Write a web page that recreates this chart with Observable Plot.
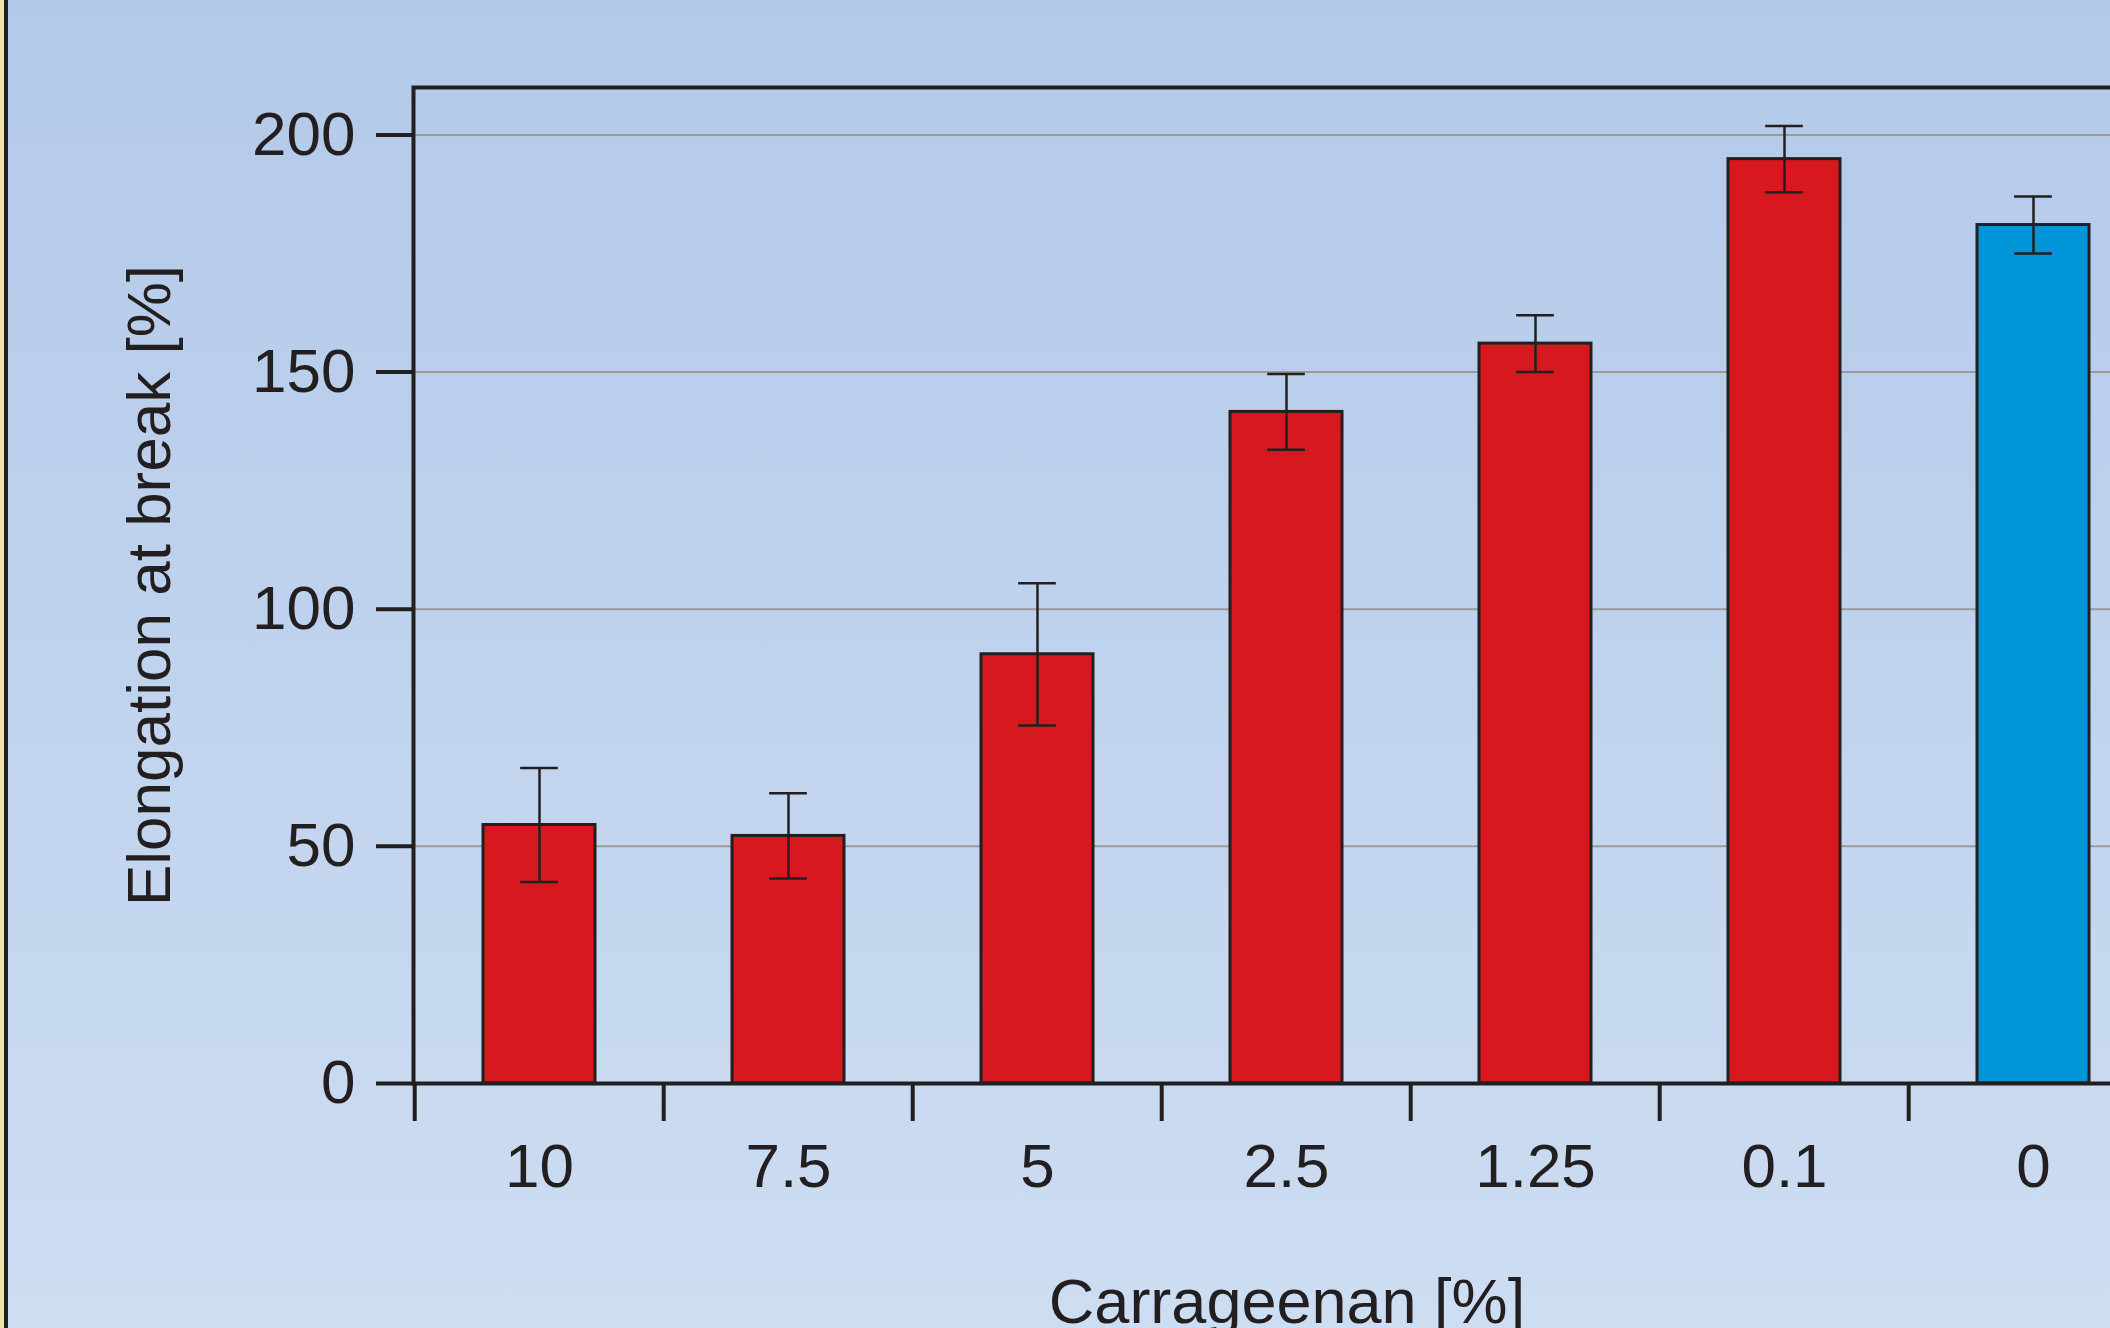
<!DOCTYPE html>
<html><head><meta charset="utf-8">
<script src="https://cdn.jsdelivr.net/npm/d3@7"></script>
<script src="https://cdn.jsdelivr.net/npm/@observablehq/plot@0.6"></script>
<style>
html,body{margin:0;padding:0;overflow:hidden;width:2110px;height:1328px;}
body{background:linear-gradient(to bottom,#b3c9e9,#cdddf2);position:relative;font-family:"Liberation Sans",Arial,sans-serif;}
#edge{position:absolute;left:0;top:0;width:4px;height:1328px;background:#efe6a6;border-right:4px solid #231f20;z-index:2;}
#chart{position:absolute;left:0;top:0;width:2160px;height:1328px;}
#chart svg{max-width:none !important;}
</style></head><body><div id="edge"></div><div id="chart"></div>
<script>
const categories = ["10", "7.5", "5", "2.5", "1.25", "0.1", "0"];
const elongation = [54.5, 52.2, 90.5, 141.6, 156, 194.9, 181];
const errorSD = [12, 9, 15, 8, 6, 7, 6];
const groups = ["carrageenan", "carrageenan", "carrageenan", "carrageenan", "carrageenan", "carrageenan", "control"];
const yTicks = [0, 50, 100, 150, 200];
const xLabel = "Carrageenan [%]";
const yLabel = "Elongation at break [%]";

const data = categories.map((c, i) => ({cat: c, value: elongation[i], sd: errorSD[i], group: groups[i]}));

const W = 2160, H = 1328, mL = 413, mR = 0, mT = 87, mB = 245;
const step = (W - mL - mR) / categories.length;
const bw = step * 0.45;
const capW = 38;
const ink = "#231f20";

const chart = Plot.plot({
  width: W, height: H,
  marginLeft: mL, marginRight: mR, marginTop: mT, marginBottom: mB,
  style: {background: "transparent", color: ink, fontFamily: "'Liberation Sans', Arial, sans-serif", maxWidth: "none"},
  x: {type: "band", domain: categories, paddingInner: 0.55, paddingOuter: 0.275, label: null},
  y: {domain: [0, 210], label: null},
  color: {domain: ["carrageenan", "control"], range: ["#d7191f", "#0095d8"]},
  marks: [
    Plot.gridY(yTicks.filter(v => v > 0), {stroke: "#9a9a9a", strokeOpacity: 1, strokeWidth: 2}),
    Plot.barY(data, {x: "cat", y: "value", fill: "group", stroke: ink, strokeWidth: 3}),
    Plot.ruleX(data, {x: "cat", y1: d => d.value - d.sd, y2: d => d.value + d.sd, stroke: ink, strokeWidth: 2.5}),
    Plot.tickY(data, {x: "cat", y: d => d.value + d.sd, insetLeft: (bw - capW) / 2, insetRight: (bw - capW) / 2, stroke: ink, strokeWidth: 2.5}),
    Plot.tickY(data, {x: "cat", y: d => d.value - d.sd, insetLeft: (bw - capW) / 2, insetRight: (bw - capW) / 2, stroke: ink, strokeWidth: 2.5}),
    Plot.axisY(yTicks, {tickSize: 37, tickPadding: 21, fontSize: 62, strokeWidth: 4, label: null}),
    Plot.axisX({tickSize: 38, text: null, dx: -step / 2, strokeWidth: 4, label: null}),
    Plot.axisX({tickSize: 0, tickPadding: 59, fontSize: 62, label: null}),
    Plot.frame({stroke: ink, strokeWidth: 4}),
    Plot.text([yLabel], {text: d => d, frameAnchor: "left", textAnchor: "middle", dx: -263, rotate: -90, fontSize: 62, fill: ink}),
    Plot.text([xLabel], {text: d => d, frameAnchor: "bottom", textAnchor: "middle", dy: 219, fontSize: 63, fill: ink, lineAnchor: "middle"})
  ]
});
chart.style.maxWidth = "none";
document.getElementById("chart").appendChild(chart);
</script>
</body></html>
